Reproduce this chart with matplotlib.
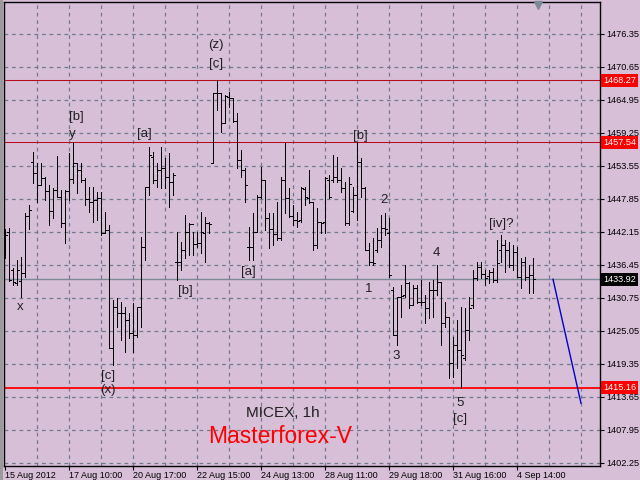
import matplotlib
matplotlib.use('Agg')
import matplotlib.pyplot as plt
from matplotlib.collections import LineCollection
from matplotlib.patches import Rectangle
import matplotlib.transforms as mtransforms

plt.rcParams['font.family'] = ['Liberation Sans', 'DejaVu Sans']

# ---------------- data (MICEX, 1h) ----------------
opens = [1439.0, 1442.1, 1435.5, 1433.3, 1433.6, 1435.0, 1444.8, 1454.2, 1452.3, 1450.2,
         1451.4, 1449.2, 1445.7, 1449.3, 1448.1, 1443.6, 1449.2, 1451.2, 1454.0, 1452.8,
         1451.1, 1447.8, 1447.3, 1447.6, 1447.9, 1441.9, 1442.4, 1422.0, 1429.1, 1428.1,
         1428.1, 1426.9, 1424.6, 1424.3, 1429.1, 1439.5, 1449.8, 1455.1, 1451.1, 1452.8,
         1453.1, 1451.6, 1450.7, 1436.9, 1436.9, 1439.0, 1442.1, 1443.5, 1440.0, 1440.2,
         1441.9, 1443.6, 1454.0, 1466.1, 1466.1, 1460.9, 1465.4, 1465.2, 1461.2, 1454.5,
         1452.8, 1439.5, 1439.5, 1442.1, 1448.1, 1451.1, 1444.5, 1442.6, 1441.8, 1441.0,
         1451.1, 1447.9, 1444.8, 1444.1, 1444.1, 1449.5, 1447.9, 1447.3, 1439.8, 1443.8,
         1443.8, 1451.1, 1451.1, 1451.6, 1451.1, 1449.7, 1443.6, 1445.7, 1448.5, 1454.2,
         1449.7, 1439.0, 1436.9, 1439.0, 1440.7, 1442.8, 1441.9, 1432.1, 1424.3, 1430.8,
         1431.2, 1433.3, 1429.5, 1432.4, 1430.0, 1430.0, 1429.0, 1432.1, 1432.1, 1433.4,
         1426.4, 1427.4, 1419.4, 1422.6, 1421.7, 1420.3, 1425.2, 1429.5, 1434.1, 1436.0,
         1434.8, 1434.5, 1435.2, 1433.8, 1439.0, 1439.8, 1439.0, 1436.4, 1438.6, 1434.3,
         1436.9, 1434.3, 1434.6]
highs = [1442.6, 1442.8, 1435.8, 1437.2, 1437.7, 1445.4, 1446.7, 1455.9, 1454.0, 1454.0,
         1451.6, 1450.2, 1449.7, 1455.2, 1449.3, 1449.3, 1455.7, 1457.6, 1454.0, 1454.0,
         1451.4, 1449.8, 1449.8, 1449.0, 1449.0, 1445.5, 1443.3, 1430.3, 1430.7, 1430.0,
         1429.1, 1428.1, 1429.8, 1429.1, 1441.2, 1449.8, 1456.7, 1455.9, 1454.0, 1456.7,
         1454.9, 1455.7, 1452.3, 1442.1, 1440.3, 1445.0, 1443.6, 1442.1, 1442.1, 1445.5,
         1444.7, 1443.8, 1466.1, 1468.27, 1466.1, 1465.7, 1466.2, 1465.2, 1462.6, 1456.2,
         1453.1, 1442.9, 1445.4, 1448.5, 1453.3, 1451.1, 1445.4, 1445.4, 1447.3, 1451.6,
         1457.4, 1449.7, 1446.7, 1445.5, 1449.8, 1449.8, 1452.8, 1447.3, 1446.2, 1443.8,
         1451.6, 1451.9, 1455.4, 1455.1, 1453.1, 1450.7, 1451.6, 1449.8, 1457.54, 1454.9,
         1449.8, 1440.2, 1441.0, 1442.8, 1445.0, 1445.4, 1444.5, 1432.6, 1430.8, 1432.9,
         1436.4, 1433.4, 1432.9, 1432.9, 1433.8, 1431.2, 1433.4, 1433.8, 1436.4, 1433.4,
         1430.0, 1427.4, 1423.9, 1426.9, 1429.1, 1429.0, 1430.8, 1435.5, 1436.9, 1436.9,
         1435.5, 1435.5, 1435.8, 1440.7, 1441.6, 1440.7, 1440.3, 1439.8, 1439.5, 1437.6,
         1437.7, 1436.4, 1437.6]
lows = [1437.6, 1433.6, 1432.9, 1432.9, 1430.8, 1434.3, 1442.6, 1450.5, 1447.3, 1450.2,
        1447.6, 1443.3, 1444.5, 1448.1, 1442.9, 1440.2, 1447.6, 1450.5, 1448.8, 1450.7,
        1446.7, 1445.5, 1443.8, 1444.1, 1441.6, 1441.9, 1422.0, 1419.1, 1425.7, 1423.4,
        1421.4, 1423.8, 1421.4, 1423.9, 1425.7, 1437.2, 1448.5, 1450.5, 1449.8, 1449.7,
        1449.7, 1446.4, 1448.5, 1433.8, 1435.5, 1437.6, 1438.1, 1438.1, 1439.5, 1438.5,
        1436.9, 1441.9, 1454.0, 1463.1, 1459.3, 1460.9, 1463.7, 1461.1, 1453.1, 1451.6,
        1447.3, 1437.2, 1437.2, 1442.1, 1447.9, 1442.4, 1439.3, 1439.8, 1440.7, 1440.7,
        1445.4, 1444.7, 1443.3, 1442.9, 1443.8, 1446.7, 1447.1, 1439.0, 1439.3, 1441.9,
        1441.9, 1447.9, 1450.7, 1450.7, 1449.0, 1443.3, 1443.3, 1445.5, 1444.1, 1448.1,
        1439.0, 1436.4, 1436.4, 1438.6, 1439.5, 1441.6, 1434.3, 1424.3, 1422.6, 1427.4,
        1430.8, 1429.0, 1429.5, 1429.8, 1429.5, 1426.4, 1427.2, 1427.4, 1431.2, 1422.6,
        1425.7, 1416.9, 1417.0, 1418.6, 1415.16, 1420.0, 1423.4, 1429.0, 1433.8, 1434.1,
        1432.9, 1433.3, 1433.4, 1433.4, 1436.9, 1435.2, 1436.0, 1435.5, 1434.3, 1432.4,
        1433.8, 1431.5, 1431.5]
closes = [1441.6, 1433.8, 1433.4, 1435.5, 1435.0, 1444.8, 1445.9, 1452.3, 1450.2, 1451.4,
          1449.2, 1445.7, 1449.3, 1448.1, 1443.6, 1449.2, 1451.2, 1454.0, 1452.8, 1451.1,
          1447.8, 1447.3, 1447.6, 1447.9, 1441.9, 1442.4, 1422.0, 1429.1, 1428.1, 1428.1,
          1426.9, 1424.6, 1424.3, 1429.1, 1439.5, 1449.8, 1455.4, 1451.1, 1452.8, 1453.1,
          1451.6, 1450.7, 1451.9, 1436.9, 1439.0, 1442.1, 1443.5, 1440.0, 1440.2, 1442.1,
          1443.6, 1443.5, 1466.1, 1466.1, 1460.9, 1465.6, 1465.2, 1461.2, 1454.5, 1452.8,
          1450.2, 1439.5, 1442.1, 1448.1, 1451.1, 1444.5, 1442.6, 1441.8, 1441.0, 1451.1,
          1447.9, 1444.8, 1444.1, 1444.0, 1449.7, 1448.1, 1447.3, 1439.8, 1443.8, 1443.6,
          1451.4, 1448.1, 1451.6, 1451.1, 1449.7, 1443.6, 1450.4, 1448.5, 1454.2, 1449.7,
          1439.0, 1436.9, 1436.7, 1440.7, 1442.8, 1442.6, 1434.6, 1424.3, 1430.8, 1431.0,
          1433.3, 1429.5, 1432.4, 1430.0, 1430.0, 1429.0, 1432.1, 1432.1, 1433.4, 1426.4,
          1427.4, 1419.4, 1422.6, 1421.7, 1420.8, 1425.2, 1429.0, 1434.1, 1436.0, 1434.8,
          1434.1, 1435.2, 1433.8, 1436.7, 1439.8, 1439.0, 1436.4, 1438.6, 1434.3, 1436.9,
          1434.3, 1434.6, 1433.92]

time_labels = ["15 Aug 2012", "17 Aug 10:00", "20 Aug 17:00", "22 Aug 15:00",
               "24 Aug 13:00", "28 Aug 11:00", "29 Aug 18:00", "31 Aug 16:00",
               "4 Sep 14:00"]
time_label_bars = [0, 16, 32, 48, 64, 80, 96, 112, 128]

price_ticks = [1476.35, 1470.65, 1464.95, 1459.25, 1453.55, 1447.85, 1442.15,
               1436.45, 1430.75, 1425.05, 1419.35, 1413.65, 1407.95, 1402.25]
price_tick_labels = ["1476.35", "1470.65", "1464.95", "1459.25", "1453.55", "1447.85",
                     "1442.15", "1436.45", "1430.75", "1425.05", "1419.35", "1413.65",
                     "1407.95", "1402.25"]

red_levels = [1468.27, 1457.54, 1415.16]
red_level_labels = ["1468.27", "1457.54", "1415.16"]
last_price = 1433.92
last_price_label = "1433.92"

forecast_bars = [137, 144]
forecast_prices = [1433.92, 1412.5]

wave_labels = ["x", "[b]", "y", "[a]", "(z)", "[c]", "[b]", "2", "[iv]?", "4", "1",
               "[a]", "[b]", "3", "[c]", "(x)", "5", "[c]"]
wave_bars = [3.75, 17.9, 16.75, 34.9, 52.75, 52.75, 88.9, 94.75, 124.0, 107.75, 90.85,
             60.85, 45.0, 97.75, 25.75, 25.75, 113.75, 113.75]
wave_prices = [1429.2, 1462.0, 1459.0, 1459.0, 1474.4, 1471.0, 1458.7, 1447.6, 1443.5,
               1438.4, 1432.3, 1435.2, 1431.8, 1420.6, 1417.2, 1414.7, 1412.5, 1409.8]

# ---------------- figure ----------------
BG = '#d8bfd8'
W, H = 640, 480
fig = plt.figure(figsize=(6.4, 4.8), dpi=100, facecolor=BG)
ax = fig.add_axes([4 / W, 14 / H, 596 / W, 464 / H])
ax.set_facecolor(BG)
ax.set_xlim(-0.25, 148.75)
ax.set_ylim(1401.66, 1481.79)

# window edge at far left
fig.patches.append(Rectangle((0, 0), 3 / W, 1, transform=fig.transFigure,
                             facecolor='#9a9a9a', edgecolor='none', zorder=0))

grid_kw = dict(color='#6e7b8b', lw=0.9, linestyle=(0, (3, 3)), zorder=1)
for gx in range(8, 149, 8):
    ax.axvline(gx, **grid_kw)
for gy in price_ticks:
    ax.axhline(gy, **grid_kw)

# level lines
ax.axhline(red_levels[0], color='#b80c1c', lw=0.75, zorder=2)
ax.axhline(red_levels[1], color='#b80c1c', lw=0.75, zorder=2)
ax.axhline(red_levels[2], color='#ff0000', lw=1.3, zorder=2)
ax.axhline(last_price, color='#7a8a96', lw=1.0, zorder=2)

# OHLC bars
segs = []
for i, (o, h, l, c) in enumerate(zip(opens, highs, lows, closes)):
    segs.append([(i, l), (i, h)])
    segs.append([(i - 0.4, o), (i, o)])
    segs.append([(i, c), (i + 0.4, c)])
lc = LineCollection(segs, colors='black', linewidths=0.72, zorder=3, antialiaseds=False)
ax.add_collection(lc)

# forecast line
ax.plot(forecast_bars, forecast_prices, color='#0000c8', lw=1.0, zorder=3)

# wave labels
for t, bx, py in zip(wave_labels, wave_bars, wave_prices):
    ax.text(bx, py, t, fontsize=9.5, color='#202020', ha='center', va='center', zorder=4)

ax.text(69.5, 1410.8, "MICEX, 1h", fontsize=11, color='#202020', ha='center', va='center')
ax.text(68.75, 1406.7, "Masterforex-V", fontsize=16.5, color='#ff0000', ha='center', va='center')

# small triangle marker at top
ax.plot([133.3], [1481.3], marker='v', ms=6, color='#7a8a96', clip_on=False, zorder=5,
        linestyle='none')

# axes styling
for s in ax.spines.values():
    s.set_color('black')
    s.set_linewidth(1.0)
ax.yaxis.tick_right()
ax.set_yticks(price_ticks)
ax.set_yticklabels(price_tick_labels)
ax.tick_params(axis='y', direction='out', length=3, width=0.8, pad=1.5, labelsize=6.6,
               colors='black')
ax.set_xticks(time_label_bars)
ax.set_xticklabels(time_labels, ha='left')
ax.tick_params(axis='x', direction='out', length=3, width=0.8, pad=0.3, labelsize=6.5,
               colors='black')

# price boxes on the right
trans = mtransforms.blended_transform_factory(fig.transFigure, ax.transData)
for lv, lab in zip(red_levels, red_level_labels):
    ax.text(603 / W, lv, lab, transform=trans, fontsize=6.6, color='white',
            ha='left', va='center', clip_on=False, zorder=6,
            bbox=dict(boxstyle='square,pad=0.22', facecolor='#ff0000', edgecolor='none'))
ax.text(603 / W, last_price, last_price_label, transform=trans, fontsize=6.6,
        color='white', ha='left', va='center', clip_on=False, zorder=6,
        bbox=dict(boxstyle='square,pad=0.22', facecolor='#000000', edgecolor='none'))

fig.savefig('out.png', dpi=100, facecolor=BG)
